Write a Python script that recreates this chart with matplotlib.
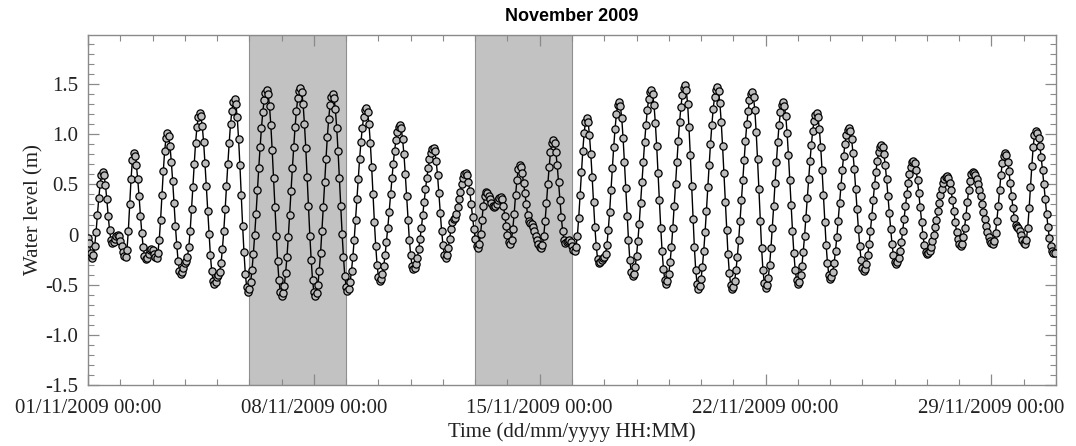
import matplotlib
matplotlib.use("Agg")
import matplotlib.pyplot as plt
import matplotlib.dates as mdates
import pandas as pd

# hourly water level (m), November 2009, one row per day
water_level = [
    -0.03, -0.08, -0.18, -0.23, -0.20, -0.11, 0.03, 0.20, 0.36, 0.50, 0.59, 0.62, 0.59, 0.49, 0.35, 0.19, 0.05, -0.05, -0.08, -0.07, -0.04, -0.01, 0.00, -0.01,
    -0.06, -0.11, -0.17, -0.21, -0.22, -0.15, 0.04, 0.30, 0.55, 0.74, 0.81, 0.78, 0.69, 0.55, 0.38, 0.19, 0.02, -0.12, -0.21, -0.24, -0.23, -0.19, -0.15, -0.14,
    -0.15, -0.19, -0.22, -0.23, -0.18, -0.05, 0.15, 0.39, 0.63, 0.83, 0.96, 1.01, 0.98, 0.88, 0.72, 0.53, 0.31, 0.09, -0.10, -0.26, -0.36, -0.39, -0.37, -0.33,
    -0.28, -0.26, -0.22, -0.12, 0.04, 0.25, 0.47, 0.70, 0.91, 1.07, 1.17, 1.21, 1.18, 1.08, 0.92, 0.71, 0.48, 0.24, 0.01, -0.20, -0.36, -0.46, -0.49, -0.47,
    -0.42, -0.40, -0.37, -0.28, -0.14, 0.04, 0.25, 0.48, 0.70, 0.91, 1.10, 1.23, 1.32, 1.35, 1.30, 1.17, 0.95, 0.69, 0.39, 0.09, -0.17, -0.39, -0.52, -0.57,
    -0.54, -0.47, -0.35, -0.19, 0.00, 0.21, 0.44, 0.66, 0.87, 1.06, 1.22, 1.34, 1.41, 1.44, 1.40, 1.28, 1.09, 0.84, 0.56, 0.27, -0.01, -0.26, -0.45, -0.57,
    -0.61, -0.58, -0.51, -0.38, -0.22, -0.02, 0.20, 0.43, 0.66, 0.87, 1.07, 1.23, 1.36, 1.43, 1.46, 1.42, 1.30, 1.10, 0.86, 0.57, 0.28, -0.01, -0.25, -0.45,
    -0.57, -0.61, -0.58, -0.50, -0.36, -0.18, 0.04, 0.27, 0.52, 0.75, 0.97, 1.15, 1.29, 1.37, 1.40, 1.36, 1.25, 1.06, 0.83, 0.56, 0.28, 0.01, -0.22, -0.41,
    -0.52, -0.56, -0.54, -0.47, -0.36, -0.22, -0.05, 0.15, 0.35, 0.55, 0.75, 0.92, 1.06, 1.17, 1.24, 1.26, 1.22, 1.10, 0.91, 0.67, 0.40, 0.13, -0.11, -0.30,
    -0.42, -0.46, -0.44, -0.39, -0.31, -0.20, -0.07, 0.07, 0.23, 0.40, 0.56, 0.70, 0.83, 0.94, 1.02, 1.07, 1.09, 1.06, 0.95, 0.80, 0.60, 0.38, 0.15, -0.05,
    -0.20, -0.31, -0.34, -0.33, -0.29, -0.23, -0.14, -0.04, 0.07, 0.20, 0.32, 0.45, 0.56, 0.66, 0.75, 0.81, 0.85, 0.86, 0.83, 0.73, 0.59, 0.41, 0.22, 0.04,
    -0.10, -0.20, -0.23, -0.20, -0.13, -0.04, 0.06, 0.13, 0.16, 0.17, 0.21, 0.27, 0.35, 0.42, 0.50, 0.56, 0.60, 0.61, 0.59, 0.52, 0.43, 0.30, 0.18, 0.06,
    -0.04, -0.11, -0.13, -0.09, 0.01, 0.15, 0.28, 0.38, 0.42, 0.41, 0.38, 0.35, 0.31, 0.28, 0.27, 0.28, 0.30, 0.34, 0.36, 0.37, 0.35, 0.28, 0.19, 0.09,
    0.00, -0.07, -0.09, -0.05, 0.06, 0.21, 0.39, 0.54, 0.65, 0.69, 0.67, 0.61, 0.51, 0.41, 0.30, 0.20, 0.14, 0.12, 0.11, 0.08, 0.04, -0.01, -0.05, -0.09,
    -0.12, -0.13, -0.10, -0.01, 0.14, 0.31, 0.50, 0.67, 0.82, 0.91, 0.94, 0.91, 0.82, 0.69, 0.52, 0.34, 0.18, 0.04, -0.05, -0.08, -0.07, -0.06, -0.05, -0.07,
    -0.11, -0.15, -0.16, -0.12, -0.01, 0.17, 0.39, 0.62, 0.83, 1.01, 1.12, 1.16, 1.12, 0.99, 0.80, 0.57, 0.32, 0.08, -0.11, -0.24, -0.28, -0.27, -0.25, -0.23,
    -0.22, -0.19, -0.10, 0.05, 0.23, 0.44, 0.66, 0.87, 1.05, 1.20, 1.29, 1.32, 1.28, 1.16, 0.96, 0.72, 0.46, 0.19, -0.05, -0.25, -0.37, -0.41, -0.39, -0.32,
    -0.21, -0.06, 0.11, 0.31, 0.52, 0.72, 0.92, 1.09, 1.24, 1.35, 1.42, 1.44, 1.40, 1.29, 1.11, 0.88, 0.61, 0.34, 0.07, -0.16, -0.34, -0.45, -0.49, -0.46,
    -0.39, -0.27, -0.12, 0.07, 0.28, 0.50, 0.72, 0.93, 1.12, 1.27, 1.39, 1.46, 1.49, 1.44, 1.30, 1.07, 0.79, 0.48, 0.16, -0.12, -0.35, -0.49, -0.54, -0.51,
    -0.44, -0.32, -0.16, 0.03, 0.24, 0.47, 0.69, 0.90, 1.09, 1.25, 1.37, 1.44, 1.47, 1.43, 1.31, 1.12, 0.88, 0.61, 0.32, 0.05, -0.19, -0.38, -0.50, -0.54,
    -0.52, -0.46, -0.35, -0.22, -0.05, 0.14, 0.34, 0.54, 0.74, 0.93, 1.10, 1.23, 1.34, 1.40, 1.42, 1.37, 1.24, 1.02, 0.75, 0.45, 0.14, -0.13, -0.35, -0.48,
    -0.53, -0.50, -0.43, -0.30, -0.13, 0.07, 0.28, 0.51, 0.72, 0.92, 1.09, 1.22, 1.29, 1.32, 1.28, 1.18, 1.01, 0.79, 0.54, 0.29, 0.04, -0.18, -0.35, -0.45,
    -0.49, -0.47, -0.40, -0.31, -0.17, -0.01, 0.17, 0.36, 0.55, 0.73, 0.89, 1.03, 1.13, 1.19, 1.21, 1.17, 1.05, 0.87, 0.64, 0.39, 0.13, -0.10, -0.28, -0.40,
    -0.44, -0.42, -0.37, -0.28, -0.16, -0.02, 0.14, 0.31, 0.48, 0.64, 0.78, 0.90, 0.99, 1.04, 1.06, 1.03, 0.95, 0.81, 0.65, 0.45, 0.25, 0.06, -0.11, -0.25,
    -0.33, -0.36, -0.34, -0.29, -0.20, -0.09, 0.04, 0.19, 0.34, 0.49, 0.62, 0.73, 0.82, 0.87, 0.89, 0.87, 0.80, 0.69, 0.55, 0.38, 0.22, 0.06, -0.09, -0.20,
    -0.27, -0.29, -0.27, -0.23, -0.16, -0.07, 0.04, 0.16, 0.28, 0.40, 0.51, 0.60, 0.67, 0.72, 0.73, 0.71, 0.64, 0.54, 0.41, 0.27, 0.13, 0.00, -0.10, -0.17,
    -0.19, -0.18, -0.16, -0.12, -0.06, 0.00, 0.08, 0.15, 0.24, 0.31, 0.39, 0.45, 0.51, 0.55, 0.57, 0.58, 0.56, 0.51, 0.44, 0.34, 0.24, 0.13, 0.03, -0.04,
    -0.09, -0.11, -0.09, -0.02, 0.07, 0.19, 0.32, 0.44, 0.53, 0.60, 0.62, 0.61, 0.59, 0.55, 0.50, 0.44, 0.38, 0.30, 0.23, 0.16, 0.09, 0.03, -0.02, -0.06,
    -0.08, -0.09, -0.06, 0.02, 0.14, 0.28, 0.44, 0.59, 0.71, 0.78, 0.81, 0.79, 0.72, 0.63, 0.51, 0.38, 0.26, 0.17, 0.10, 0.08, 0.07, 0.04, 0.00, -0.05,
    -0.08, -0.09, -0.05, 0.07, 0.26, 0.47, 0.68, 0.87, 0.99, 1.03, 1.01, 0.96, 0.88, 0.77, 0.64, 0.50, 0.35, 0.21, 0.08, -0.03, -0.11, -0.16, -0.18, -0.18,
]
times = pd.date_range("2009-11-01 00:00", periods=len(water_level), freq="h")

# shaded periods
shade_periods = [("2009-11-06", "2009-11-09"), ("2009-11-13", "2009-11-16")]

x_ticks = ["2009-11-01", "2009-11-08", "2009-11-15", "2009-11-22", "2009-11-29"]
y_ticks = [-1.5, -1.0, -0.5, 0, 0.5, 1.0, 1.5]
y_tick_labels = ["-1.5", "-1.0", "-0.5", "0", "0.5", "1.0", "1.5"]

serif = "Liberation Serif"
axis_grey = "#8a8a8a"
text_col = "#222222"

fig = plt.figure(figsize=(10.76, 4.46), dpi=100)
ax = fig.add_axes([88 / 1076, 1 - 385 / 446, (1056 - 88) / 1076, (385 - 35) / 446])

for start, end in shade_periods:
    ax.axvspan(pd.Timestamp(start), pd.Timestamp(end), facecolor="#c2c2c2",
               edgecolor="#909090", linewidth=0.8, zorder=0)

ax.plot(times, water_level, color="black", linewidth=1.0, marker="o",
        markersize=5.2, markerfacecolor="#bcbcbc", markeredgecolor="black",
        markeredgewidth=0.9, zorder=3)

ax.set_xlim(pd.Timestamp("2009-11-01"), pd.Timestamp("2009-12-01"))
ax.set_ylim(-1.5, 1.99)

ax.set_xticks([pd.Timestamp(t) for t in x_ticks])
ax.xaxis.set_minor_locator(mdates.DayLocator())
ax.xaxis.set_major_formatter(mdates.DateFormatter("%d/%m/%Y %H:%M"))
ax.set_yticks(y_ticks)
ax.set_yticklabels(y_tick_labels)
ax.set_yticks([v / 10 for v in range(-15, 20)], minor=True)

ax.tick_params(which="both", direction="in", top=True, right=True,
               color=axis_grey, labelsize=15, labelcolor=text_col)
ax.tick_params(which="major", length=8, width=0.9)
ax.tick_params(which="minor", length=4, width=0.8)
ax.tick_params(axis="x", which="major", pad=10)
ax.tick_params(axis="y", which="major", pad=7)
for lab in ax.get_xticklabels() + ax.get_yticklabels():
    lab.set_fontfamily(serif)
for sp in ax.spines.values():
    sp.set_color(axis_grey)
    sp.set_linewidth(1.0)

ax.set_xlabel("Time (dd/mm/yyyy HH:MM)", fontsize=15, family=serif,
              color=text_col, labelpad=3)
ax.set_ylabel("Water level (m)", fontsize=15, family=serif,
              color=text_col, labelpad=1)
ax.set_title("November 2009", fontsize=13, family="Liberation Sans",
             fontweight="bold", pad=10)

fig.savefig("out.png", dpi=100)
